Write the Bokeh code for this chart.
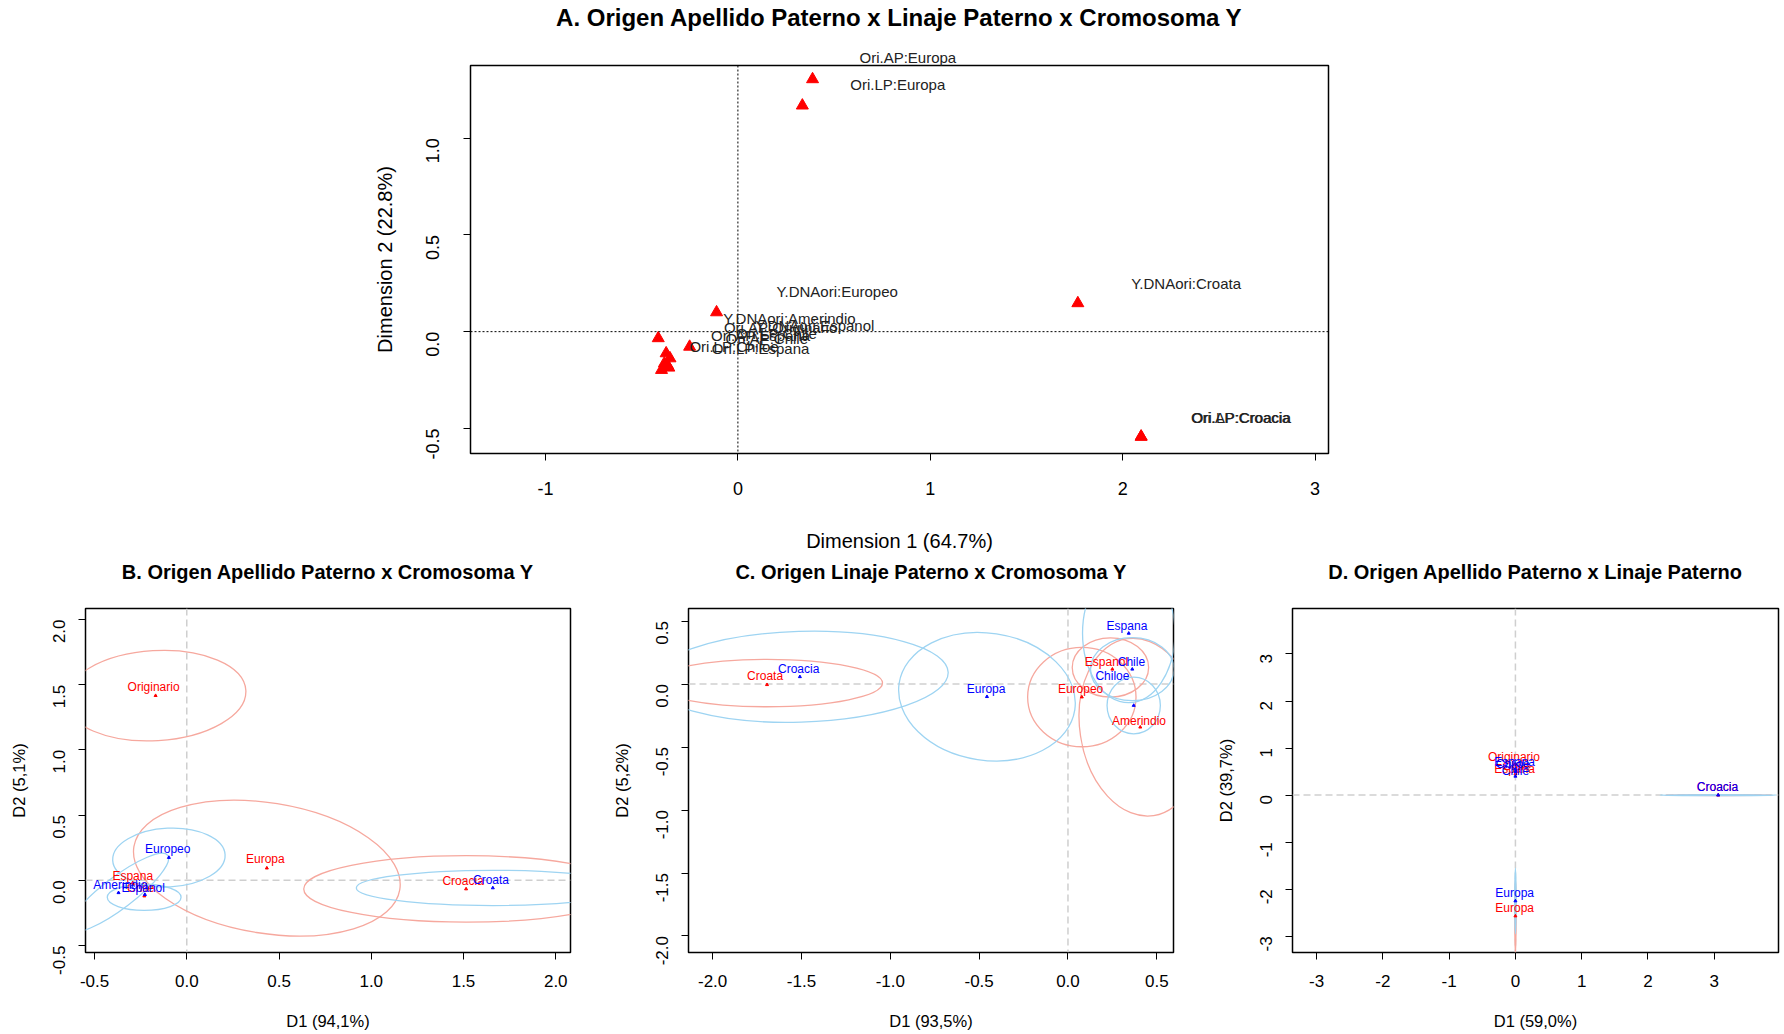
import math
from bokeh.plotting import figure
from bokeh.layouts import column, row
from bokeh.models import ColumnDataSource, LabelSet, Span, Range1d, FixedTicker, Title
from bokeh.core.properties import value
from bokeh.embed import file_html
from bokeh.resources import INLINE

FONT = "Liberation Sans"
RED = "#FF0000"
BLUE = "#0000FF"
RED_ELL = "#F6A89E"
BLUE_ELL = "#9ED4F2"

# ---------------- Panel A data ----------------
A_names = ["Ori.LP:Europa", "Y.DNAori:Croata", "Ori.AP:Croacia", "Ori.LP:Croacia",
           "Y.DNAori:Europeo", "Y.DNAori:Amerindio", "Ori.LP:Chiloe", "Ori.AP:Originario",
           "Y.DNAori:Espanol", "Ori.AP:Espana", "Ori.LP:Espana", "Ori.AP:Chile", "Ori.LP:Chile"]
A_x = [0.335, 1.767, 2.096, 2.096, -0.111, -0.414, -0.251, -0.373, -0.353, -0.382, -0.359, -0.397, -0.365]
A_y = [1.169, 0.147, -0.543, -0.543, 0.100, -0.034, -0.078, -0.112, -0.138, -0.164, -0.186, -0.198, -0.175]
A_lab_x = [0.831, 2.33, 2.615, 2.615, 0.516, 0.268, -0.02, 0.222, 0.40, 0.118, 0.118, 0.15, 0.20]
A_lab_y = [1.276, 0.247, -0.445, -0.445, 0.207, 0.069, -0.077, 0.023, 0.03, -0.02, -0.089, -0.035, -0.01]
# point whose label sits above the plot box
A_top_name = "Ori.AP:Europa"
A_top_x = [0.388]
A_top_y = [1.305]
A_xticks = [-1, 0, 1, 2, 3]
A_xticklabels = ["-1", "0", "1", "2", "3"]
A_yticks = [-0.5, 0.0, 0.5, 1.0]
A_yticklabels = ["-0.5", "0.0", "0.5", "1.0"]

# ---------------- Panel B data ----------------
B_red_names = ["Originario", "Europa", "Croacia", "Espana", "Chile"]
B_red_x = [-0.169, 0.434, 1.514, -0.293, -0.23]
B_red_y = [1.416, 0.094, -0.066, -0.02, -0.12]
B_red_lab_x = [-0.18, 0.426, 1.498, -0.293, -0.25]
B_red_lab_y = [1.479, 0.163, -0.008, 0.036, -0.06]
B_blue_names = ["Europeo", "Croata", "Amerindio", "Espanol"]
B_blue_x = [-0.097, 1.659, -0.37, -0.227]
B_blue_y = [0.175, -0.058, -0.095, -0.109]
B_blue_lab_x = [-0.103, 1.649, -0.36, -0.236]
B_blue_lab_y = [0.244, 0.0, -0.033, -0.058]
B_red_ell_x = [-0.169, 0.434, 1.514]
B_red_ell_y = [1.416, 0.094, -0.066]
B_red_ell_w = [0.98, 1.46, 1.76]
B_red_ell_h = [0.69, 1.0, 0.51]
B_red_ell_a = [0.06, -0.16, 0.0]
B_blue_ell_x = [-0.097, 1.659, -0.37, -0.231]
B_blue_ell_y = [0.175, -0.058, -0.095, -0.13]
B_blue_ell_w = [0.61, 1.48, 0.67, 0.40]
B_blue_ell_h = [0.45, 0.27, 0.24, 0.20]
B_blue_ell_a = [0.05, 0.0, 0.65, 0.0]
B_ticks = [-0.5, 0.0, 0.5, 1.0, 1.5, 2.0]
B_ticklabels = ["-0.5", "0.0", "0.5", "1.0", "1.5", "2.0"]

# ---------------- Panel C data ----------------
C_red_names = ["Croata", "Europeo", "Espanol", "Amerindio"]
C_red_x = [-1.694, 0.078, 0.25, 0.407]
C_red_y = [-0.005, -0.103, 0.118, -0.342]
C_red_lab_x = [-1.705, 0.071, 0.217, 0.40]
C_red_lab_y = [0.066, -0.039, 0.176, -0.292]
C_blue_names = ["Croacia", "Europa", "Espana", "Chile", "Chiloe"]
C_blue_x = [-1.509, -0.456, 0.342, 0.362, 0.37]
C_blue_y = [0.058, -0.1, 0.403, 0.118, -0.17]
C_blue_lab_x = [-1.516, -0.461, 0.332, 0.357, 0.25]
C_blue_lab_y = [0.116, -0.039, 0.461, 0.176, 0.066]
C_red_ell_x = [-1.694, 0.078, 0.239, 0.407]
C_red_ell_y = [0.008, -0.103, 0.132, -0.342]
C_red_ell_w = [1.30, 0.61, 0.43, 0.68]
C_red_ell_h = [0.376, 0.79, 0.47, 1.42]
C_red_ell_a = [0.0, 0.0, 0.0, 0.15]
C_blue_ell_x = [-1.509, -0.456, 0.342, 0.362, 0.37]
C_blue_ell_y = [0.058, -0.1, 0.403, 0.118, -0.17]
C_blue_ell_w = [1.67, 1.0, 0.52, 0.47, 0.30]
C_blue_ell_h = [0.72, 1.01, 1.1, 0.5, 0.45]
C_blue_ell_a = [0.03, -0.15, 0.0, 0.0, 0.0]
C_ticks = [-2.0, -1.5, -1.0, -0.5, 0.0, 0.5]
C_ticklabels = ["-2.0", "-1.5", "-1.0", "-0.5", "0.0", "0.5"]

# ---------------- Panel D data ----------------
D_red_names = ["Originario", "Espana", "Chile", "Europa", "Croacia"]
D_red_x = [0.0, 0.0, 0.02, 0.0, 3.06]
D_red_y = [0.65, 0.45, 0.50, -2.57, 0.0]
D_red_lab_x = [-0.023, -0.011, 0.017, -0.011, 3.05]
D_red_lab_y = [0.809, 0.563, 0.61, -2.405, 0.176]
D_blue_names = ["Espana", "Chiloe", "Chile", "Europa", "Croacia"]
D_blue_x = [0.0, 0.0, 0.0, 0.0, 3.06]
D_blue_y = [0.55, 0.50, 0.40, -2.25, 0.0]
D_blue_lab_x = [-0.011, -0.04, 0.0, -0.011, 3.05]
D_blue_lab_y = [0.703, 0.654, 0.513, -2.075, 0.176]
D_red_ell_x = [0.0, 3.06]
D_red_ell_y = [-2.57, 0.0]
D_red_ell_w = [0.02, 1.6]
D_red_ell_h = [1.6, 0.02]
D_blue_ell_x = [0.0, 3.06]
D_blue_ell_y = [-2.25, 0.0]
D_blue_ell_w = [0.02, 1.75]
D_blue_ell_h = [1.4, 0.02]
D_ticks = [-3, -2, -1, 0, 1, 2, 3]
D_ticklabels = ["-3", "-2", "-1", "0", "1", "2", "3"]


def make_fig(w, h, xr, yr, mb):
    p = figure(width=w, height=h, x_range=Range1d(*xr), y_range=Range1d(*yr),
               output_backend="svg", toolbar_location=None, title=None,
               min_border_left=mb[0], min_border_right=mb[1],
               min_border_top=mb[2], min_border_bottom=mb[3],
               background_fill_color="white", border_fill_color="white")
    p.outline_line_color = "black"
    p.outline_line_width = 1.5
    p.xgrid.visible = False
    p.ygrid.visible = False
    return p


def add_title(p, text, size, spacer):
    # spacer between frame and title (added first => closest to the frame)
    p.add_layout(Title(text=" ", text_font_size="2px", standoff=spacer), "above")
    p.add_layout(Title(text=text, align="center", text_font=FONT, text_font_size=size,
                       text_font_style="bold", text_color="black", standoff=0), "above")


def style_axes(p, xticks, xlabels, yticks, ylabels, xlab, ylab, tick_fs, lab_fs,
               xs, xls, ys, yls, tick_len):
    for ax in (p.xaxis[0], p.yaxis[0]):
        ax.axis_line_color = None
        ax.major_tick_in = 0
        ax.major_tick_out = tick_len
        ax.major_tick_line_color = "black"
        ax.major_tick_line_width = 1
        ax.minor_tick_line_color = None
        ax.major_label_text_font = FONT
        ax.major_label_text_font_size = tick_fs
        ax.major_label_text_color = "black"
        ax.axis_label_text_font = FONT
        ax.axis_label_text_font_size = lab_fs
        ax.axis_label_text_font_style = "normal"
        ax.axis_label_text_color = "black"
    p.xaxis.ticker = FixedTicker(ticks=xticks)
    p.xaxis.major_label_overrides = {float(t): l for t, l in zip(xticks, xlabels)}
    p.yaxis.ticker = FixedTicker(ticks=yticks)
    p.yaxis.major_label_overrides = {float(t): l for t, l in zip(yticks, ylabels)}
    p.yaxis.major_label_orientation = math.pi / 2
    p.xaxis.axis_label = xlab
    p.yaxis.axis_label = ylab
    p.xaxis.major_label_standoff = xs
    p.xaxis.axis_label_standoff = xls
    p.yaxis.major_label_standoff = ys
    p.yaxis.axis_label_standoff = yls


# ---------------- Panel A ----------------
pA = make_fig(1782, 558, (-1.39, 3.07), (-0.63, 1.376), (470, 454, 65, 105))
style_axes(pA, A_xticks, A_xticklabels, A_yticks, A_yticklabels,
           "Dimension 1 (64.7%)", "Dimension 2 (22.8%)", "18px", "20px", 21, 32, 31, 21, 7)
# label of the top point, drawn just above the box
pA.add_layout(Title(text=A_top_name, align="left", offset=389, text_font=FONT,
                    text_font_size="15px", text_font_style="normal", text_color="#222222",
                    standoff=0), "above")
pA.add_layout(Title(text=" ", text_font_size="2px", standoff=12), "above")
pA.add_layout(Title(text="A. Origen Apellido Paterno x Linaje Paterno x Cromosoma Y",
                    align="center", text_font=FONT, text_font_size="24px",
                    text_font_style="bold", text_color="black", standoff=0), "above")
pA.add_layout(Span(location=0, dimension="height", line_color="black", line_dash="2 2", line_width=1))
pA.add_layout(Span(location=0, dimension="width", line_color="black", line_dash="2 2", line_width=1))
srcA = ColumnDataSource(dict(x=A_x, y=A_y, lx=A_lab_x, ly=A_lab_y, name=A_names))
pA.scatter(A_top_x, A_top_y, marker="triangle", size=12, fill_color=RED, line_color=RED)
pA.scatter("x", "y", source=srcA, marker="triangle", size=12, fill_color=RED, line_color=RED)
pA.add_layout(LabelSet(x="lx", y="ly", text="name", source=srcA, text_align="center",
                       text_baseline="middle", text_font=value(FONT),
                       text_font_size=value("15px"), text_color="#222222"))


def bottom_panel(w, xr, yr, mb, title, ticksx, labx, ticksy, laby, xlab, ylab,
                 red_pts, blue_pts, red_ell, blue_ell):
    p = make_fig(w, 474, xr, yr, mb)
    add_title(p, title, "20px", 22)
    style_axes(p, ticksx, labx, ticksy, laby, xlab, ylab, "17px", "16.5px", 15, 22, 19, 17, 7)
    p.add_layout(Span(location=0, dimension="height", line_color="#CFCFCF", line_dash="7 4",
                      line_width=1.5, level="underlay"))
    p.add_layout(Span(location=0, dimension="width", line_color="#CFCFCF", line_dash="7 4",
                      line_width=1.5, level="underlay"))
    for ell, col in ((red_ell, RED_ELL), (blue_ell, BLUE_ELL)):
        p.ellipse(x=ell[0], y=ell[1], width=ell[2], height=ell[3], angle=ell[4],
                  fill_color=None, line_color=col, line_width=1.3)
    for pts, col in ((red_pts, RED), (blue_pts, BLUE)):
        src = ColumnDataSource(dict(x=pts[0], y=pts[1], lx=pts[2], ly=pts[3], name=pts[4]))
        p.scatter("x", "y", source=src, marker="triangle", size=3, fill_color=col, line_color=col)
        p.text(x="lx", y="ly", text="name", source=src, text_color=col,
               text_font=value(FONT), text_font_size=value("12px"),
               text_align="center", text_baseline="middle")
    return p


pB = bottom_panel(600, (-0.549, 2.08), (-0.553, 2.084), (85, 30, 49, 79),
                  "B. Origen Apellido Paterno x Cromosoma Y",
                  B_ticks, B_ticklabels, B_ticks, B_ticklabels, "D1 (94,1%)", "D2 (5,1%)",
                  (B_red_x, B_red_y, B_red_lab_x, B_red_lab_y, B_red_names),
                  (B_blue_x, B_blue_y, B_blue_lab_x, B_blue_lab_y, B_blue_names),
                  (B_red_ell_x, B_red_ell_y, B_red_ell_w, B_red_ell_h, B_red_ell_a),
                  (B_blue_ell_x, B_blue_ell_y, B_blue_ell_w, B_blue_ell_h, B_blue_ell_a))

pC = bottom_panel(590, (-2.136, 0.594), (-2.131, 0.6), (88, 17, 49, 79),
                  "C. Origen Linaje Paterno x Cromosoma Y",
                  C_ticks, C_ticklabels, C_ticks, C_ticklabels, "D1 (93,5%)", "D2 (5,2%)",
                  (C_red_x, C_red_y, C_red_lab_x, C_red_lab_y, C_red_names),
                  (C_blue_x, C_blue_y, C_blue_lab_x, C_blue_lab_y, C_blue_names),
                  (C_red_ell_x, C_red_ell_y, C_red_ell_w, C_red_ell_h, C_red_ell_a),
                  (C_blue_ell_x, C_blue_ell_y, C_blue_ell_w, C_blue_ell_h, C_blue_ell_a))

pD = bottom_panel(592, (-3.364, 3.97), (-3.345, 3.966), (102, 4, 49, 79),
                  "D. Origen Apellido Paterno x Linaje Paterno",
                  D_ticks, D_ticklabels, D_ticks, D_ticklabels, "D1 (59,0%)", "D2 (39,7%)",
                  (D_red_x, D_red_y, D_red_lab_x, D_red_lab_y, D_red_names),
                  (D_blue_x, D_blue_y, D_blue_lab_x, D_blue_lab_y, D_blue_names),
                  (D_red_ell_x, D_red_ell_y, D_red_ell_w, D_red_ell_h, [0.0, 0.0]),
                  (D_blue_ell_x, D_blue_ell_y, D_blue_ell_w, D_blue_ell_h, [0.0, 0.0]))

layout = column(pA, row(pB, pC, pD))
open("out.html", "w").write(file_html(layout, INLINE))
